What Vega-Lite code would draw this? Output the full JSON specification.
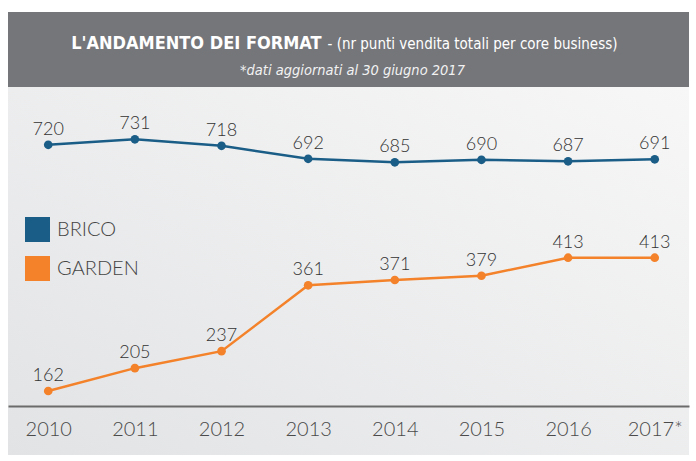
{
  "$schema": "https://vega.github.io/schema/vega-lite/v6.json",
  "background": "white",
  "padding": {"left": 8, "top": 12, "right": 7, "bottom": 6},
  "autosize": {"type": "pad"},
  "spacing": 0,
  "config": {"view": {"stroke": null}, "font": "Lato"},
  "datasets": {
    "header": [
      {"part": "main", "label": "L'ANDAMENTO DEI FORMAT"},
      {"part": "note", "label": "- (nr punti vendita totali per core business)"},
      {"part": "date", "label": "*dati aggiornati al 30 giugno 2017"}
    ],
    "format": [
      {"year": "2010", "series": "BRICO", "value": 720},
      {"year": "2011", "series": "BRICO", "value": 731},
      {"year": "2012", "series": "BRICO", "value": 718},
      {"year": "2013", "series": "BRICO", "value": 692},
      {"year": "2014", "series": "BRICO", "value": 685},
      {"year": "2015", "series": "BRICO", "value": 690},
      {"year": "2016", "series": "BRICO", "value": 687},
      {"year": "2017*", "series": "BRICO", "value": 691},
      {"year": "2010", "series": "GARDEN", "value": 162},
      {"year": "2011", "series": "GARDEN", "value": 205},
      {"year": "2012", "series": "GARDEN", "value": 237},
      {"year": "2013", "series": "GARDEN", "value": 361},
      {"year": "2014", "series": "GARDEN", "value": 371},
      {"year": "2015", "series": "GARDEN", "value": 379},
      {"year": "2016", "series": "GARDEN", "value": 413},
      {"year": "2017*", "series": "GARDEN", "value": 413}
    ]
  },
  "vconcat": [
    {
      "width": 681,
      "height": 75,
      "view": {"fill": "#75767a", "stroke": null},
      "data": {"name": "header"},
      "layer": [
        {
          "transform": [{"filter": "datum.part === 'main'"}],
          "mark": {"type": "text", "align": "right", "baseline": "alphabetic", "dx": -27, "dy": -1, "font": "DejaVu Sans Condensed, Liberation Sans Narrow, Roboto Condensed, Roboto, sans-serif", "fontSize": 18, "fontWeight": "bold", "color": "white"},
          "encoding": {"text": {"field": "label"}}
        },
        {
          "transform": [{"filter": "datum.part === 'note'"}],
          "mark": {"type": "text", "align": "left", "baseline": "alphabetic", "dx": -21, "dy": -1, "font": "DejaVu Sans Condensed, Liberation Sans Narrow, Roboto Condensed, Roboto, sans-serif", "fontSize": 15, "color": "white"},
          "encoding": {"text": {"field": "label"}}
        },
        {
          "transform": [{"filter": "datum.part === 'date'"}],
          "mark": {"type": "text", "align": "center", "baseline": "alphabetic", "dx": 4, "dy": 25, "font": "DejaVu Sans Condensed, Liberation Sans Narrow, Roboto Condensed, Roboto, sans-serif", "fontSize": 14.5, "fontStyle": "italic", "color": "#f2f2f2"},
          "encoding": {"text": {"field": "label"}}
        }
      ]
    },
    {
      "width": 681,
      "height": 368,
      "view": {
        "fill": {"gradient": "linear", "x1": 1, "y1": 0, "x2": 0, "y2": 1, "stops": [{"offset": 0, "color": "#f7f7f7"}, {"offset": 1, "color": "#e2e3e5"}]},
        "stroke": null
      },
      "data": {"name": "format"},
      "encoding": {
        "x": {
          "field": "year", "type": "ordinal", "sort": null,
          "scale": {"type": "point", "padding": 0.43, "align": 0.54},
          "axis": {"title": null, "offset": -49, "ticks": false, "labelAngle": 0, "labelFontSize": 20, "labelColor": "#4a4a4a", "labelFont": "Lato", "labelFontWeight": 300, "labelPadding": 13, "domainColor": "#6b6b6b", "domainWidth": 2, "grid": false}
        }
      },
      "layer": [
        {
          "transform": [{"filter": "datum.series === 'BRICO'"}],
          "encoding": {"y": {"field": "value", "type": "quantitative", "scale": {"domain": [99.6, 835.6], "nice": false, "zero": false}, "axis": null}},
          "layer": [
            {
              "mark": {"type": "line", "strokeWidth": 2.5},
              "encoding": {"color": {"field": "series", "type": "nominal",
                "scale": {"domain": ["BRICO", "GARDEN"], "range": ["#1a5d86", "#f3822a"]},
                "legend": {"title": null, "orient": "none", "legendX": 17, "legendY": 205, "symbolType": "square", "symbolSize": 625, "symbolStrokeWidth": 0, "symbolOpacity": 1, "labelFontSize": 20, "labelFont": "Lato", "labelFontWeight": 300, "labelColor": "#444444", "rowPadding": 14, "labelOffset": 7, "padding": 0}}}
            },
            {
              "mark": {"type": "point", "filled": true, "size": 75, "opacity": 1},
              "encoding": {"color": {"field": "series", "type": "nominal"}}
            },
            {
              "mark": {"type": "text", "dy": -10, "baseline": "alphabetic", "fontSize": 18, "fontWeight": 300, "color": "#333333", "font": "Lato"},
              "encoding": {"text": {"field": "value", "type": "quantitative"}}
            }
          ]
        },
        {
          "transform": [{"filter": "datum.series === 'GARDEN'"}],
          "encoding": {"y": {"field": "value", "type": "quantitative", "scale": {"domain": [41.5, 734.4], "nice": false, "zero": false}, "axis": null}},
          "layer": [
            {
              "mark": {"type": "line", "strokeWidth": 2.5},
              "encoding": {"color": {"field": "series", "type": "nominal"}}
            },
            {
              "mark": {"type": "point", "filled": true, "size": 75, "opacity": 1},
              "encoding": {"color": {"field": "series", "type": "nominal"}}
            },
            {
              "mark": {"type": "text", "dy": -10, "baseline": "alphabetic", "fontSize": 18, "fontWeight": 300, "color": "#333333", "font": "Lato"},
              "encoding": {"text": {"field": "value", "type": "quantitative"}}
            }
          ]
        }
      ],
      "resolve": {"scale": {"y": "independent"}}
    }
  ]
}
